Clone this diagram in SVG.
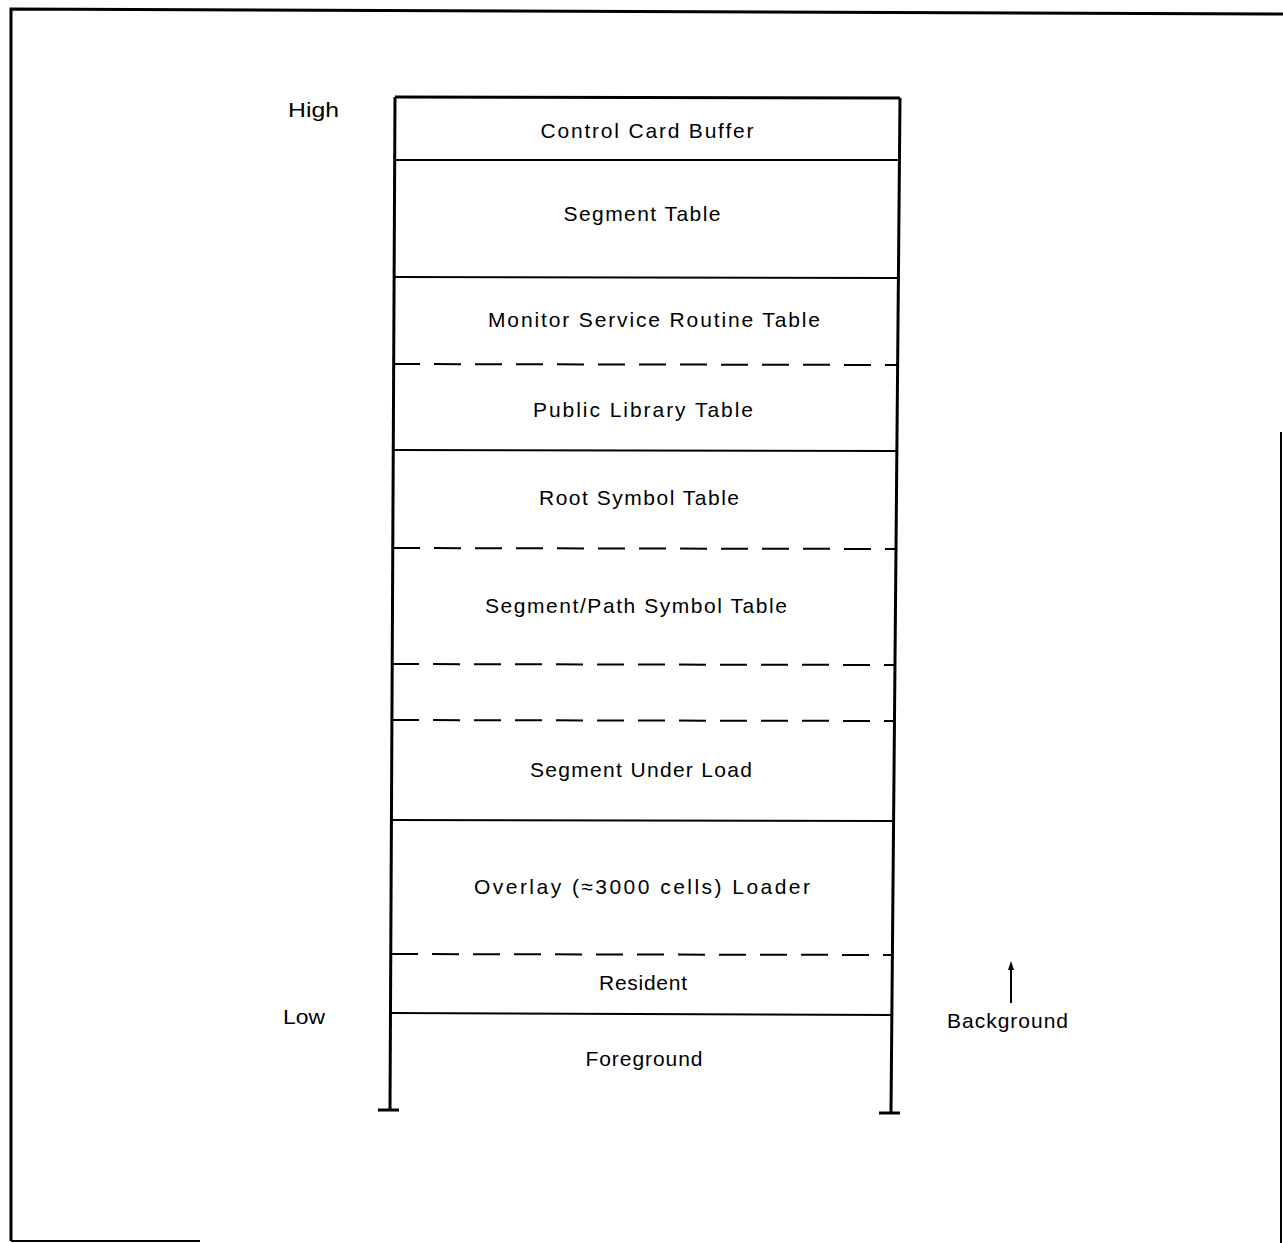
<svg xmlns="http://www.w3.org/2000/svg" width="1283" height="1243" viewBox="0 0 1283 1243">
<style>
.t{font-family:"Liberation Sans","DejaVu Sans",sans-serif;font-size:21px;fill:#000;}
.c{text-anchor:middle;}
.s{stroke:#000;stroke-width:2;fill:none;}
.d{stroke:#000;stroke-width:2;fill:none;stroke-dasharray:27 14;}
.w{stroke:#000;stroke-width:3;fill:none;}
</style>
<rect width="1283" height="1243" fill="#fff"/>
<g id="frame">
<path class="w" d="M11,1241 L11,9 L1283,14"/>
<path class="s" d="M1281,432 L1281,1243"/>
<path class="s" d="M11,1241 L200,1241"/>
</g>
<g id="connectors">
<path class="w" d="M395,97 L900,98"/>
<path class="w" d="M395,97 L390,1110"/>
<path class="w" d="M900,98 L891,1112"/>
<path class="w" d="M378,1110 L399,1110"/>
<path class="w" d="M879,1113 L900,1113"/>
<path class="s" d="M1011,1003 L1011,968"/>
<path d="M1011,961 L1008,970 L1014,970 Z" fill="#000"/>
</g>
<g id="lines">
<path class="s" d="M394,160 L899,160"/>
<path class="s" d="M394,277 L898,278"/>
<path class="d" d="M393,364 L897,365"/>
<path class="s" d="M393,450 L896,451"/>
<path class="d" d="M393,548 L895,549"/>
<path class="d" d="M392,664 L894,665"/>
<path class="d" d="M392,720 L894,721"/>
<path class="s" d="M391,820 L893,821"/>
<path class="d" d="M391,954 L892,955"/>
<path class="s" d="M391,1013 L891,1015"/>
</g>
<g id="n-high"><text class="t" x="288" y="117" textLength="51" lengthAdjust="spacingAndGlyphs">High</text></g>
<g id="n-ccb"><text class="t c" x="647" y="138" textLength="213" lengthAdjust="spacing">Control Card Buffer</text></g>
<g id="n-st"><text class="t c" x="642" y="221" textLength="157" lengthAdjust="spacing">Segment Table</text></g>
<g id="n-msrt"><text class="t c" x="654" y="327" textLength="332" lengthAdjust="spacing">Monitor Service Routine Table</text></g>
<g id="n-plt"><text class="t c" x="643" y="417" textLength="220" lengthAdjust="spacing">Public Library Table</text></g>
<g id="n-rst"><text class="t c" x="639" y="505" textLength="200" lengthAdjust="spacing">Root Symbol Table</text></g>
<g id="n-spst"><text class="t c" x="636" y="613" textLength="302" lengthAdjust="spacing">Segment/Path Symbol Table</text></g>
<g id="n-empty"></g>
<g id="n-sul"><text class="t c" x="641" y="777" textLength="222" lengthAdjust="spacing">Segment Under Load</text></g>
<g id="n-ovl"><text class="t c" x="642" y="894" textLength="336" lengthAdjust="spacing">Overlay (≈3000 cells) Loader</text></g>
<g id="n-res"><text class="t c" x="643" y="990" textLength="88" lengthAdjust="spacing">Resident</text></g>
<g id="n-low"><text class="t" x="283" y="1024" textLength="42" lengthAdjust="spacingAndGlyphs">Low</text></g>
<g id="n-fg"><text class="t c" x="644" y="1066" textLength="117" lengthAdjust="spacing">Foreground</text></g>
<g id="n-bg"><text class="t" x="947" y="1028" textLength="121" lengthAdjust="spacing">Background</text></g>
</svg>
